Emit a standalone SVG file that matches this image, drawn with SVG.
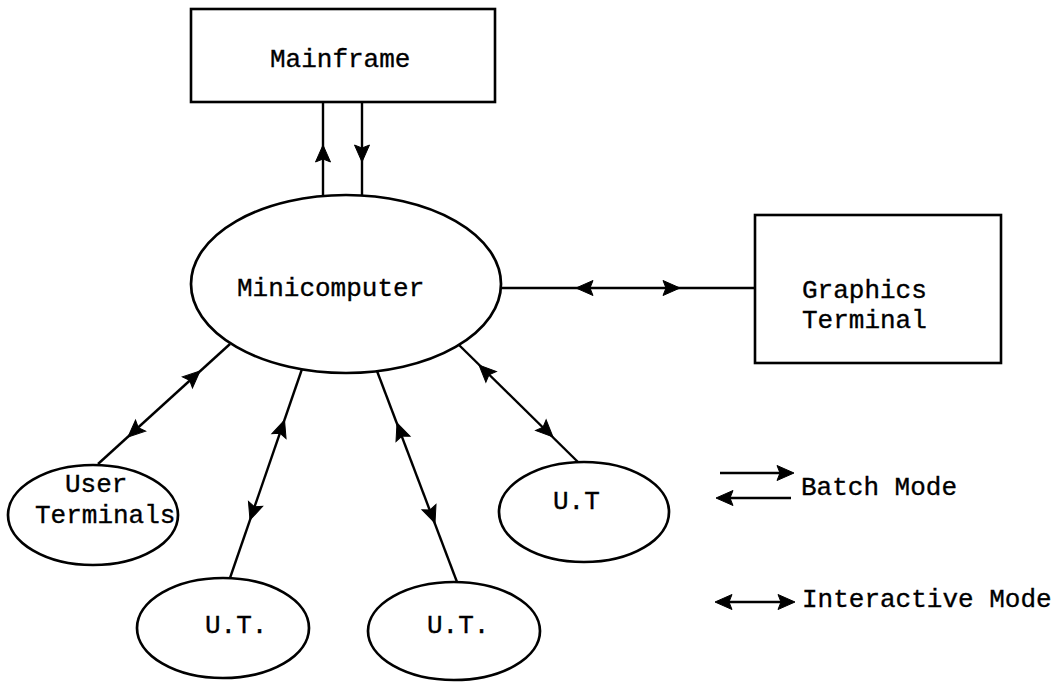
<svg xmlns="http://www.w3.org/2000/svg" xmlns:xlink="http://www.w3.org/1999/xlink" width="1055" height="682" viewBox="0 0 1055 682">
<defs>
<style>
.box{fill:#fff;stroke:#000;stroke-width:2.6}
.ell{fill:#fff;stroke:#000;stroke-width:2.7}
.ln{fill:none;stroke:#000;stroke-width:2.4}
text{font-family:"Liberation Mono","Courier New",monospace;font-size:26px;fill:#000;stroke:#000;stroke-width:0.35}
</style>
<path id="ah" d="M0,0 L-17,-7.5 L-14,0 L-17,7.5 Z" fill="#000" stroke="#000" stroke-width="1" stroke-linejoin="miter"/>
</defs>
<rect width="1055" height="682" fill="#fff"/>
<g id="connectors">
<!-- Mainframe batch links -->
<path class="ln" d="M323,196 L323,102"/>
<use href="#ah" xlink:href="#ah" transform="translate(323,145) rotate(-90)"/>
<path class="ln" d="M362,102 L362,196"/>
<use href="#ah" xlink:href="#ah" transform="translate(362,162) rotate(90)"/>
<!-- Graphics terminal -->
<path class="ln" d="M501,288 L755,288"/>
<use href="#ah" xlink:href="#ah" transform="translate(576,288) rotate(180)"/>
<use href="#ah" xlink:href="#ah" transform="translate(680,288)"/>
<!-- User Terminals -->
<path class="ln" d="M230,344 L98,464"/>
<use href="#ah" xlink:href="#ah" transform="translate(200,371) rotate(-42.3)"/>
<use href="#ah" xlink:href="#ah" transform="translate(128,437) rotate(137.7)"/>
<!-- U.T. 1 -->
<path class="ln" d="M302,369 L230,578"/>
<use href="#ah" xlink:href="#ah" transform="translate(284.5,420) rotate(-71)"/>
<use href="#ah" xlink:href="#ah" transform="translate(250,520) rotate(109)"/>
<!-- U.T. 2 -->
<path class="ln" d="M377,371 L457,582"/>
<use href="#ah" xlink:href="#ah" transform="translate(397,423) rotate(-110.7)"/>
<use href="#ah" xlink:href="#ah" transform="translate(435,523) rotate(69.3)"/>
<!-- U.T right -->
<path class="ln" d="M459,345 L579,463"/>
<use href="#ah" xlink:href="#ah" transform="translate(479,365) rotate(-135.5)"/>
<use href="#ah" xlink:href="#ah" transform="translate(553,437) rotate(44.5)"/>
</g>
<g id="mainframe">
<rect class="box" x="191" y="9" width="304" height="93"/>
<text x="270" y="67">Mainframe</text>
</g>
<g id="minicomputer">
<ellipse class="ell" cx="346" cy="284" rx="155" ry="89"/>
<text x="237" y="296">Minicomputer</text>
</g>
<g id="graphics-terminal">
<rect class="box" x="755" y="215" width="246" height="148"/>
<text x="802" y="298">Graphics</text>
<text x="802" y="328">Terminal</text>
</g>
<g id="user-terminals">
<ellipse class="ell" cx="93" cy="515" rx="85" ry="50"/>
<text x="65" y="492">User</text>
<text x="35" y="523">Terminals</text>
</g>
<g id="ut-1">
<ellipse class="ell" cx="223" cy="628" rx="86" ry="50"/>
<text x="205" y="633">U.T.</text>
</g>
<g id="ut-2">
<ellipse class="ell" cx="454" cy="631" rx="86" ry="49"/>
<text x="427" y="633">U.T.</text>
</g>
<g id="ut-3">
<ellipse class="ell" cx="584" cy="512" rx="85" ry="50"/>
<text x="553" y="509">U.T</text>
</g>
<g id="legend">
<path class="ln" d="M720,473 L786,473"/>
<use href="#ah" xlink:href="#ah" transform="translate(794,473)"/>
<path class="ln" d="M791,498 L724,498"/>
<use href="#ah" xlink:href="#ah" transform="translate(716,498) rotate(180)"/>
<text x="801" y="495">Batch Mode</text>
<path class="ln" d="M723,602 L787,602"/>
<use href="#ah" xlink:href="#ah" transform="translate(715,602) rotate(180)"/>
<use href="#ah" xlink:href="#ah" transform="translate(795,602)"/>
<text x="802" y="607">Interactive Mode</text>
</g>
</svg>
